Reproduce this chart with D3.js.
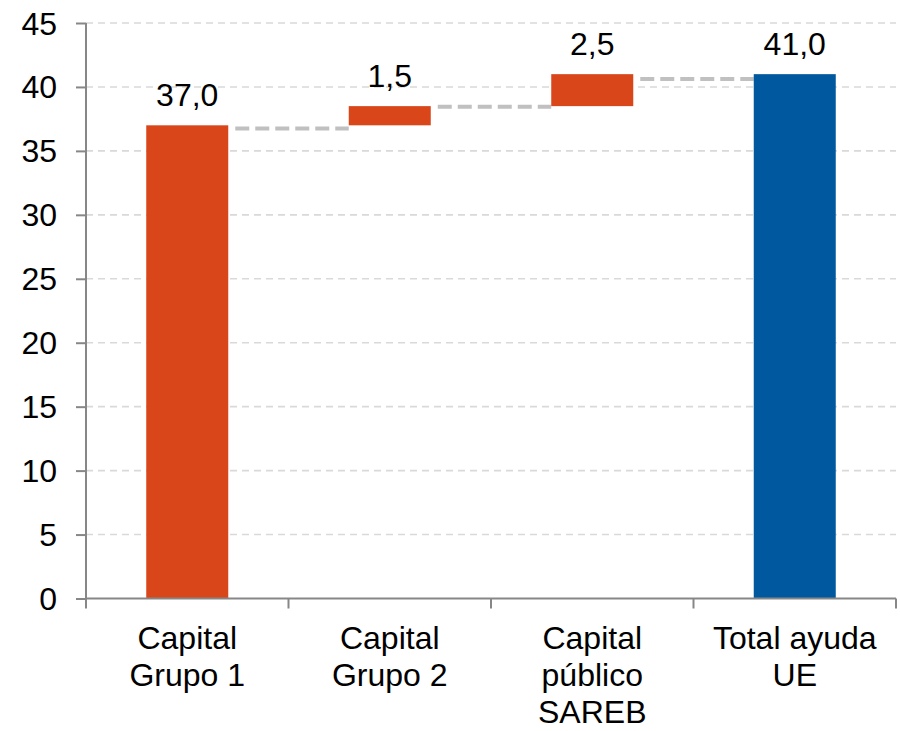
<!DOCTYPE html>
<html>
<head>
<meta charset="utf-8">
<script src="https://cdn.jsdelivr.net/npm/d3@7"></script>
<style>
  html, body { margin: 0; padding: 0; background: #fff; }
  svg { display: block; }
  text { font-family: "Liberation Sans", Arial, sans-serif; fill: #000; }
</style>
</head>
<body>
<svg id="chart" width="900" height="731"></svg>
<script>
// ---- data ----
const categories = ["Capital Grupo 1", "Capital Grupo 2", "Capital público SAREB", "Total ayuda UE"];
const categoryLines = [["Capital", "Grupo 1"], ["Capital", "Grupo 2"], ["Capital", "público", "SAREB"], ["Total ayuda", "UE"]];
const values = [37.0, 1.5, 2.5, 41.0];
const bases = [0, 37.0, 38.5, 0];
const valueLabels = ["37,0", "1,5", "2,5", "41,0"];
const barKinds = ["step", "step", "step", "total"];
const connectorLevels = [36.75, 38.45, 40.62];
const yTicks = [0, 5, 10, 15, 20, 25, 30, 35, 40, 45];

// ---- layout ----
const svg = d3.select("#chart");
const plotLeft = 86, plotRight = 896, plotTop = 23, plotBottom = 598.5;
const fontSize = "32px";
const colors = { step: "#D9461A", total: "#00599F" };

const x = d3.scaleBand().domain(categories).range([plotLeft, plotRight]).paddingInner(0).paddingOuter(0);
const y = d3.scaleLinear().domain([0, 45]).range([plotBottom, plotTop]);
const barW = x.bandwidth() * 0.405;

// gridlines
svg.append("g").selectAll("line").data(yTicks.filter(d => d > 0)).join("line")
  .attr("x1", plotLeft).attr("x2", plotRight)
  .attr("y1", d => y(d)).attr("y2", d => y(d))
  .attr("stroke", "#d9d9d9").attr("stroke-width", 1.6).attr("stroke-dasharray", "7,5");

// connectors
svg.append("g").selectAll("line").data(connectorLevels).join("line")
  .attr("x1", (d, i) => x(categories[i]) + x.bandwidth() / 2 + barW / 2 + 7)
  .attr("x2", (d, i) => x(categories[i + 1]) + x.bandwidth() / 2 - barW / 2)
  .attr("y1", d => y(d)).attr("y2", d => y(d))
  .attr("stroke", "#c0c0c0").attr("stroke-width", 4.2).attr("stroke-dasharray", "14,6");

// bars
svg.append("g").selectAll("rect").data(categories).join("rect")
  .attr("x", d => x(d) + x.bandwidth() / 2 - barW / 2)
  .attr("width", barW)
  .attr("y", (d, i) => y(bases[i] + values[i]))
  .attr("height", (d, i) => y(bases[i]) - y(bases[i] + values[i]))
  .attr("fill", (d, i) => colors[barKinds[i]]);

// value labels
svg.append("g").selectAll("text").data(categories).join("text")
  .attr("x", d => x(d) + x.bandwidth() / 2)
  .attr("y", (d, i) => y(bases[i] + values[i]) - 19)
  .attr("text-anchor", "middle")
  .style("font-size", fontSize)
  .text((d, i) => valueLabels[i]);

// y axis
const yAxis = d3.axisLeft(y).tickValues(yTicks).tickSize(10).tickFormat("");
const ya = svg.append("g").attr("transform", `translate(${plotLeft},0)`).call(yAxis);
ya.select(".domain").attr("stroke", "#878787").attr("stroke-width", 2).attr("d", `M0,${plotTop}V${plotBottom}`);
ya.selectAll(".tick line").attr("stroke", "#878787").attr("stroke-width", 2);

svg.append("g").selectAll("text").data(yTicks).join("text")
  .attr("x", 57)
  .attr("y", d => y(d) + 11.5)
  .attr("text-anchor", "end")
  .style("font-size", fontSize)
  .text(d => d);

// x axis
const xa = svg.append("g").attr("transform", `translate(0,${plotBottom})`);
xa.append("line").attr("x1", plotLeft).attr("x2", plotRight).attr("y1", 0).attr("y2", 0)
  .attr("stroke", "#878787").attr("stroke-width", 2);
const boundaries = categories.map(c => x(c)).concat([x(categories[categories.length - 1]) + x.bandwidth()]);
xa.selectAll("line.tk").data(boundaries).join("line").attr("class", "tk")
  .attr("x1", d => d).attr("x2", d => d).attr("y1", 0).attr("y2", 10)
  .attr("stroke", "#878787").attr("stroke-width", 2);

// category labels
const catG = svg.append("g").selectAll("g").data(categories).join("g");
catG.each(function (d, i) {
  const g = d3.select(this);
  categoryLines[i].forEach((line, j) => {
    g.append("text")
      .attr("x", x(d) + x.bandwidth() / 2)
      .attr("y", 649 + j * 37)
      .attr("text-anchor", "middle")
      .style("font-size", fontSize)
      .text(line);
  });
});
</script>
</body>
</html>
